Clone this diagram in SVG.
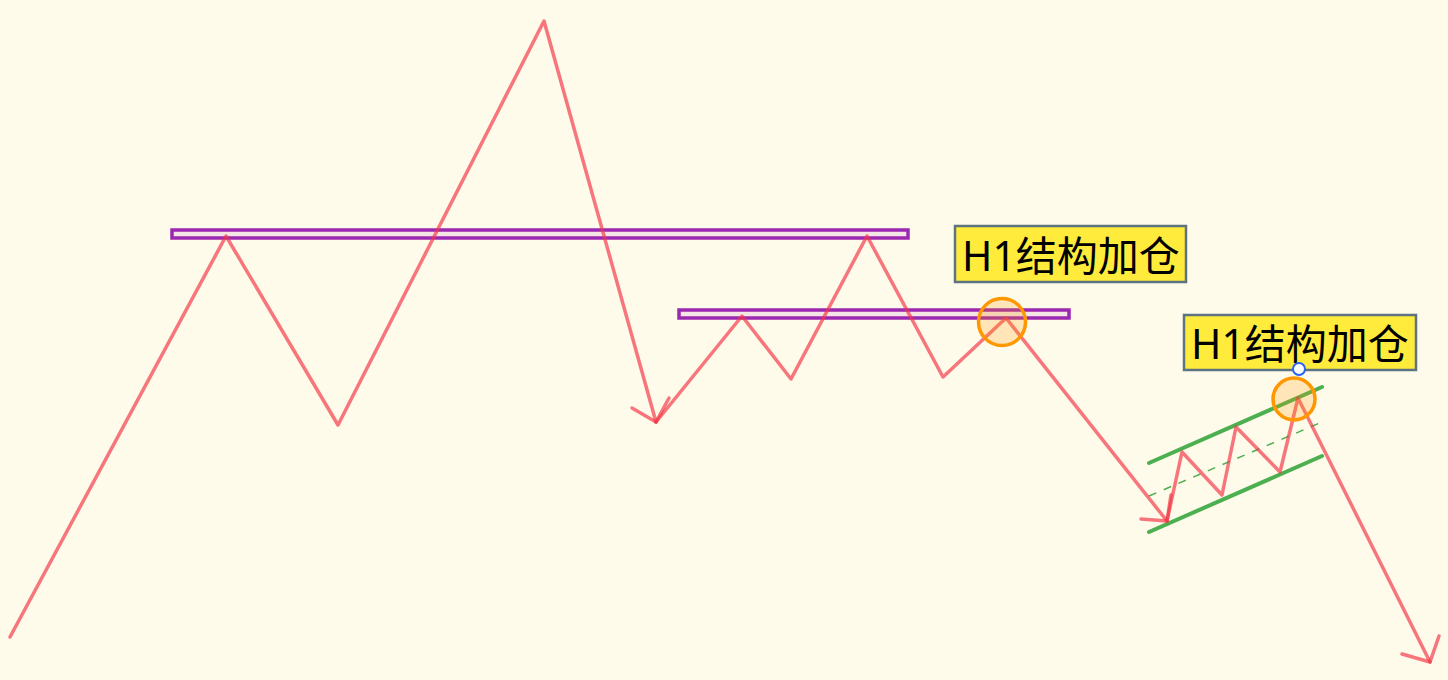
<svg xmlns="http://www.w3.org/2000/svg" width="1448" height="680" viewBox="0 0 1448 680">
<style>
.wave{fill:none;stroke:#f23645;stroke-opacity:0.68;stroke-width:3.5;stroke-linecap:round;stroke-linejoin:round}
.zone{fill:#9c27b0;fill-opacity:0.1;stroke:#9c27b0;stroke-width:3.5}
.ch{stroke:#4caf50;stroke-width:4;stroke-linecap:round}
.chd{stroke:#4caf50;stroke-width:1.5;stroke-dasharray:8 8}
.mark{fill:#ff9800;fill-opacity:0.22;stroke:#ff9800;stroke-width:3.5}
.lbl rect{fill:#ffeb3b;stroke:#5d7381;stroke-width:2.5}
.lbl text{font-family:"Noto Sans","Noto Sans CJK SC",sans-serif;font-size:41px;fill:#000}
</style>
<rect width="1448" height="680" fill="#fffbeb"/>
<g id="zones">
<rect class="zone" x="172" y="230" width="736" height="8"/>
<rect class="zone" x="679" y="310" width="390" height="8"/>
</g>
<g id="channel">
<line class="ch" x1="1149" y1="463" x2="1322" y2="387"/>
<line class="ch" x1="1149" y1="532" x2="1322" y2="456"/>
<line class="chd" x1="1149" y1="496" x2="1322" y2="422"/>
</g>
<g id="connectors">
<polyline class="wave" points="10,637 226,236 338,425 544,21 656,422"/>
<polyline class="wave" points="632,408 656,422 669,398"/>
<polyline class="wave" points="656,422 742,316 791,379 867,236 943,377 1006,318 1167,521"/>
<polyline class="wave" points="1141,519 1167,521 1171,495"/>
<polyline class="wave" points="1167,521 1182,452 1222,495 1236,427 1280,472 1298,398 1430,662"/>
<polyline class="wave" points="1402,654 1430,662 1439,636"/>
</g>
<g id="marker1"><circle class="mark" cx="1002" cy="322" r="23.5"/></g>
<g id="marker2"><circle class="mark" cx="1294" cy="399" r="21"/></g>
<g id="label1" class="lbl">
<rect x="955" y="226" width="231" height="56"/>
<text x="962" y="271">H1结构加仓</text>
</g>
<g id="label2" class="lbl">
<rect x="1184" y="315" width="232" height="55"/>
<text x="1191" y="359">H1结构加仓</text>
</g>
<g id="handle"><circle cx="1299" cy="369" r="6" fill="#fff" stroke="#2962ff" stroke-width="2"/></g>
</svg>
